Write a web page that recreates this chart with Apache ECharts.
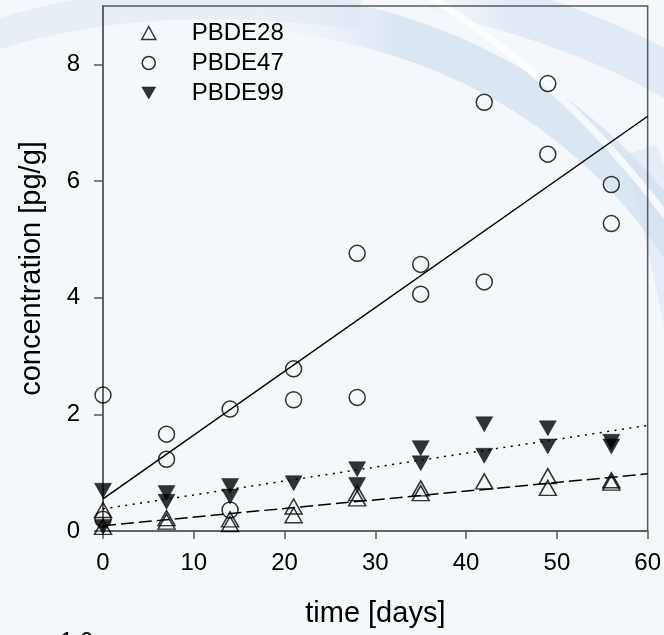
<!DOCTYPE html>
<html>
<head>
<meta charset="utf-8">
<script src="https://cdn.jsdelivr.net/npm/echarts@6/dist/echarts.min.js"></script>
<style>
  html, body { margin: 0; padding: 0; background: #f4f7fb; }
  #chart { width: 664px; height: 635px; }
</style>
</head>
<body>
<div id="chart"></div>
<script>
// Sampling days and duplicate measurements per congener (pg/g)
const days = [0, 7, 14, 21, 28, 35, 42, 49, 56];

const pbde28A = [0.36, 0.22, 0.20, 0.42, 0.65, 0.73, 0.85, 0.94, 0.87];
const pbde28B = [0.07, 0.16, 0.12, 0.27, 0.56, 0.65, null, 0.74, 0.83];

const pbde47A = [2.33, 1.66, 2.09, 2.78, 4.76, 4.57, 7.35, 7.67, 5.94];
const pbde47B = [0.20, 1.23, 0.36, 2.25, 2.29, 4.06, 4.27, 6.46, 5.27];

const pbde99A = [0.69, 0.65, 0.77, 0.82, 1.06, 1.42, 1.83, 1.76, 1.53];
const pbde99B = [0.07, 0.50, 0.59, null, 0.79, 1.16, 1.29, 1.45, 1.45];

// Linear uptake fits, evaluated at both ends of the time axis
const fitDays = [0, 60];
const fit28 = [0.09, 0.98];
const fit47 = [0.55, 7.11];
const fit99 = [0.38, 1.81];

const xTicks = [0, 10, 20, 30, 40, 50, 60];
const yTicks = [0, 2, 4, 6, 8];

const names = ['PBDE28', 'PBDE47', 'PBDE99'];

function pairs(xs, ...cols) {
  const out = [];
  cols.forEach(col => col.forEach((v, i) => { if (v !== null) out.push([xs[i], v]); }));
  return out;
}

const FONT = 'Liberation Sans, Arial, Helvetica, sans-serif';
const INK = '#000';
const AXIS = '#5a5a5a';

const openStyle = { color: 'transparent', borderColor: INK, borderWidth: 1.5 };
const solidStyle = { color: INK, borderColor: INK, borderWidth: 0.5 };
const downTri = 'path://M0,0L20,0L10,17.3Z';

// horizontal fade so the sweeps blend into the backdrop at their ends
function fade(color) {
  return {
    type: 'linear', x: 0, y: 0, x2: 1, y2: 0,
    colorStops: [
      { offset: 0, color: 'rgba(244,247,251,0)' },
      { offset: 0.35, color },
      { offset: 1, color }
    ]
  };
}

function sweep(x1, y1, cx1, cy1, cx2, cy2, x2, y2, stroke, width, opacity) {
  return {
    type: 'bezierCurve', z: -10, silent: true,
    shape: { x1, y1, cpx1: cx1, cpy1: cy1, cpx2: cx2, cpy2: cy2, x2, y2 },
    style: { stroke, lineWidth: width, fill: null, opacity }
  };
}

const chart = echarts.init(document.getElementById('chart'), null, { renderer: 'canvas' });

chart.setOption({
  animation: false,
  backgroundColor: '#f4f7fb',
  textStyle: { fontFamily: FONT },
  graphic: [
    // pale blue sweeps across the top of the backdrop
    sweep(-20, 40, 110, -5, 240, 0, 360, 14, '#dbe6f2', 30, 0.5),
    sweep(250, 8, 420, 22, 580, 90, 690, 260, fade('#cbdbee'), 40, 0.6),
    sweep(420, -14, 540, 14, 630, 48, 700, 95, fade('#d6e3f1'), 44, 0.65),
    sweep(640, 150, 660, 210, 672, 280, 690, 360, '#d3e1f0', 36, 0.45),
    sweep(425, -6, 500, 40, 590, 110, 680, 235, '#ffffff', 7, 0.75),
    // tick label of the panel below, cut by the bottom edge
    { type: 'text', left: 60, top: 630, silent: true,
      style: { text: '1.0', fontSize: 24, fontFamily: FONT, fill: INK } }
  ],
  grid: {
    left: 103, right: 16, top: 6, bottom: 104,
    show: true, borderColor: AXIS, borderWidth: 1.5, backgroundColor: 'transparent'
  },
  legend: {
    orient: 'vertical',
    left: 136, top: 16,
    itemWidth: 14, itemHeight: 13, itemGap: 6,
    selectedMode: false,
    textStyle: { fontSize: 24, color: INK, fontFamily: FONT, lineHeight: 24, padding: [0, 0, 0, 31] },
    data: [
      { name: names[0], icon: 'triangle', itemStyle: openStyle },
      { name: names[1], icon: 'circle', itemStyle: openStyle },
      { name: names[2], icon: downTri, itemStyle: solidStyle }
    ]
  },
  xAxis: {
    type: 'value', min: 0, max: 60, interval: 10,
    splitLine: { show: false },
    axisLine: { show: true, lineStyle: { color: AXIS, width: 1.5 } },
    axisTick: { show: true, length: 8, lineStyle: { color: AXIS, width: 1.5 }, customValues: xTicks },
    axisLabel: { fontSize: 24, color: INK, margin: 20, fontFamily: FONT, customValues: xTicks },
    name: 'time [days]', nameLocation: 'middle', nameGap: 68,
    nameTextStyle: { fontSize: 29, color: INK, fontFamily: FONT }
  },
  yAxis: {
    type: 'value', min: 0, max: 9, interval: 2,
    splitLine: { show: false },
    axisLine: { show: true, lineStyle: { color: AXIS, width: 1.5 } },
    axisTick: { show: true, length: 9, lineStyle: { color: AXIS, width: 1.5 }, customValues: yTicks },
    axisLabel: { fontSize: 24, color: INK, margin: 23, fontFamily: FONT, customValues: yTicks },
    name: 'concentration [pg/g]', nameLocation: 'middle', nameRotate: 90, nameGap: 57,
    nameTextStyle: { fontSize: 29, color: INK, fontFamily: FONT }
  },
  series: [
    { name: 'fit 47', type: 'line', data: pairs(fitDays, fit47), symbol: 'none', z: 1,
      lineStyle: { color: INK, width: 1.5 } },
    { name: 'fit 99', type: 'line', data: pairs(fitDays, fit99), symbol: 'none', z: 1,
      lineStyle: { color: INK, width: 1.5, type: [2, 5.5] } },
    { name: 'fit 28', type: 'line', data: pairs(fitDays, fit28), symbol: 'none', z: 1,
      lineStyle: { color: INK, width: 1.5, type: [13, 5] } },
    { name: names[1], type: 'scatter', data: pairs(days, pbde47A, pbde47B),
      symbol: 'circle', symbolSize: 16, itemStyle: openStyle, z: 3 },
    { name: names[2], type: 'scatter', data: pairs(days, pbde99A, pbde99B),
      symbol: 'triangle', symbolSize: [17, 15], symbolRotate: 180, itemStyle: solidStyle, z: 3 },
    { name: names[0], type: 'scatter', data: pairs(days, pbde28A, pbde28B),
      symbol: 'triangle', symbolSize: [17, 15], itemStyle: openStyle, z: 4 }
  ]
});
</script>
</body>
</html>
